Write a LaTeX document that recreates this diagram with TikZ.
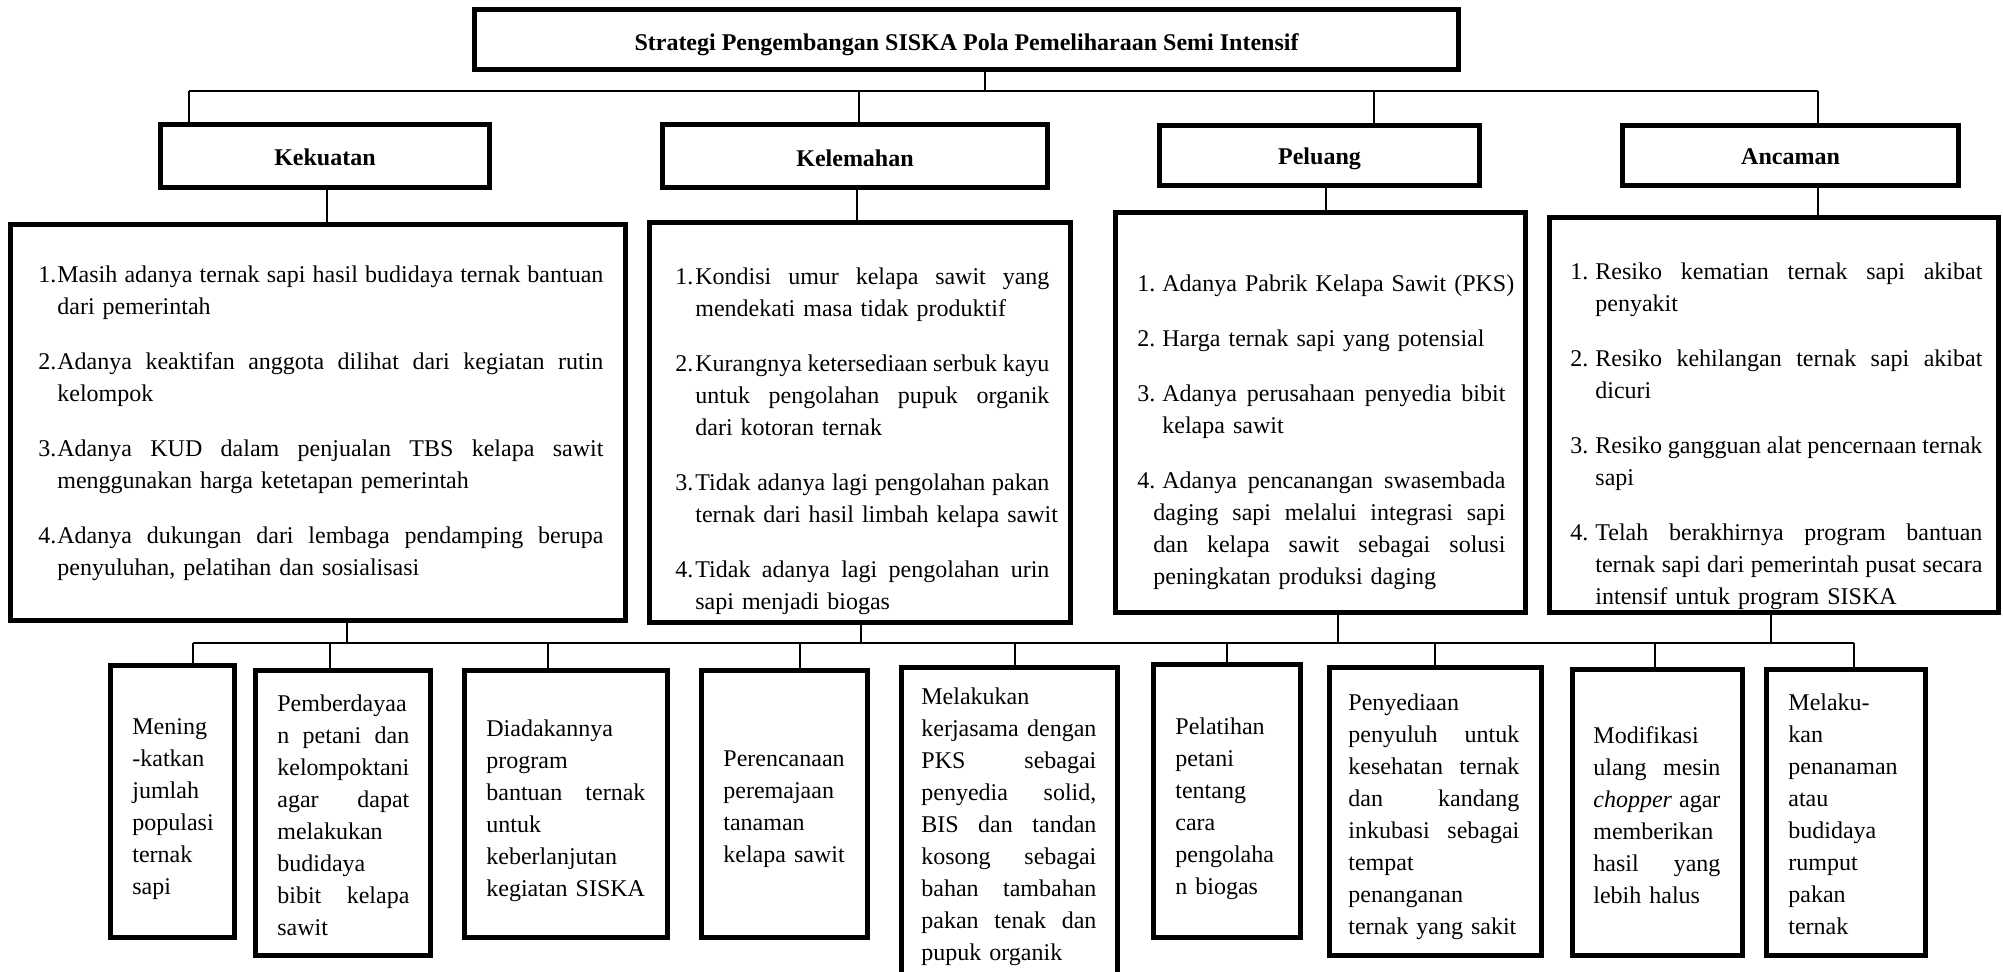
\documentclass[tikz,border=0pt]{standalone}
\usepackage{fontspec}
\setmainfont{Liberation Serif}
\usetikzlibrary{fit}
\setlength{\parindent}{0pt}
\newcommand{\JB}[2]{\hbox to #1{\spaceskip=0.25em plus 1fil minus 0.08em\relax #2}}
\newcommand{\NJ}[4]{\makebox[#1][l]{\strut#3}\JB{#2}{#4}}
\newcommand{\NL}[3]{\makebox[#1][l]{\strut#2}#3}
\newcommand{\J}[2]{\strut\JB{#1}{#2}}
\newcommand{\Lx}[1]{\strut#1}
\begin{document}
\begin{tikzpicture}[x=0.5pt,y=-0.5pt,
  box/.style={draw, line width=2.5pt, inner sep=0pt},
  conn/.style={line width=0.7pt},
  txt/.style={anchor=north west, inner sep=0pt, align=left, font=\fontsize{12}{16}\selectfont},
  hd/.style={inner sep=0pt, text height=8pt, text depth=2.6pt, font=\fontsize{12}{16}\selectfont\bfseries}]
\useasboundingbox (0,0) rectangle (2003,972);
\clip (0,0) rectangle (2003,972);

% ---------- title ----------
\node[box, fit={(474.5,9.5) (1458.5,69.5)}] (title) {};
\node[hd] (titletext) at (966.5,45) {Strategi Pengembangan SISKA Pola Pemeliharaan Semi Intensif};

% ---------- headers ----------
\node[box, fit={(160.5,124.5) (489.5,187.5)}] (hk) {};
\node[hd] (hkt) at ([yshift=-2pt]hk.center) {Kekuatan};
\node[box, fit={(662.5,124.5) (1047.5,187.5)}] (hw) {};
\node[hd] (hwt) at ([yshift=-2.5pt]hw.center) {Kelemahan};
\node[box, fit={(1159.5,125.5) (1479.5,185.5)}] (hp) {};
\node[hd] (hpt) at ([yshift=-2pt]hp.center) {Peluang};
\node[box, fit={(1622.5,125.5) (1958.5,185.5)}] (ha) {};
\node[hd] (hat) at ([yshift=-2pt]ha.center) {Ancaman};

% ---------- list boxes ----------
\node[box, fit={(10.5,224.5) (625.5,620.5)}] (lk) {};
\node[box, fit={(649.5,222.5) (1070.5,622.5)}] (lw) {};
\node[box, fit={(1115.5,212.5) (1525.5,612.5)}] (lp) {};
\node[box, fit={(1549.5,217.5) (1998,612.5)}] (la) {};

\node[txt, text width=300pt] (tk) at (38,260) {%
\NJ{9.5pt}{273pt}{1.}{Masih adanya ternak sapi hasil budidaya ternak bantuan}\\
\NL{9.5pt}{}{dari pemerintah}\\[11.5pt]
\NJ{9.5pt}{273pt}{2.}{Adanya keaktifan anggota dilihat dari kegiatan rutin}\\
\NL{9.5pt}{}{kelompok}\\[11.5pt]
\NJ{9.5pt}{273pt}{3.}{Adanya KUD dalam penjualan TBS kelapa sawit}\\
\NL{9.5pt}{}{menggunakan harga ketetapan pemerintah}\\[11.5pt]
\NJ{9.5pt}{273pt}{4.}{Adanya dukungan dari lembaga pendamping berupa}\\
\NL{9.5pt}{}{penyuluhan, pelatihan dan sosialisasi}};

\node[txt, text width=205pt] (tw) at (675,262) {%
\NJ{10pt}{177pt}{1.}{Kondisi umur kelapa sawit yang}\\
\NL{10pt}{}{mendekati masa tidak produktif}\\[11.5pt]
\NJ{10pt}{177pt}{2.}{Kurangnya ketersediaan serbuk kayu}\\
\NJ{10pt}{177pt}{}{untuk pengolahan pupuk organik}\\
\NL{10pt}{}{dari kotoran ternak}\\[11.5pt]
\NJ{10pt}{177pt}{3.}{Tidak adanya lagi pengolahan pakan}\\
\NL{10pt}{}{ternak dari hasil limbah kelapa sawit}\\[11.5pt]
\NJ{10pt}{177pt}{4.}{Tidak adanya lagi pengolahan urin}\\
\NL{10pt}{}{sapi menjadi biogas}};

\node[txt, text width=205pt] (tp) at (1137,269) {%
\NL{12.5pt}{1.}{Adanya Pabrik Kelapa Sawit (PKS)}\\[11.5pt]
\NL{12.5pt}{2.}{Harga ternak sapi yang potensial}\\[11.5pt]
\NJ{12.5pt}{171.5pt}{3.}{Adanya perusahaan penyedia bibit}\\
\NL{12.5pt}{}{kelapa sawit}\\[11.5pt]
\NJ{12.5pt}{171.5pt}{4.}{Adanya pencanangan swasembada}\\
\NJ{8pt}{176pt}{}{daging sapi melalui integrasi sapi}\\
\NJ{8pt}{176pt}{}{dan kelapa sawit sebagai solusi}\\
\NL{8pt}{}{peningkatan produksi daging}};

\node[txt, text width=225pt] (ta) at (1570,257) {%
\NJ{12.5pt}{193.5pt}{1.}{Resiko kematian ternak sapi akibat}\\
\NL{12.5pt}{}{penyakit}\\[11.5pt]
\NJ{12.5pt}{193.5pt}{2.}{Resiko kehilangan ternak sapi akibat}\\
\NL{12.5pt}{}{dicuri}\\[11.5pt]
\NJ{12.5pt}{193.5pt}{3.}{Resiko gangguan alat pencernaan ternak}\\
\NL{12.5pt}{}{sapi}\\[11.5pt]
\NJ{12.5pt}{193.5pt}{4.}{Telah berakhirnya program bantuan}\\
\NJ{12.5pt}{193.5pt}{}{ternak sapi dari pemerintah pusat secara}\\
\NL{12.5pt}{}{intensif untuk program SISKA}};

% ---------- bottom boxes ----------
\node[box, fit={(110.5,665.5) (234.5,937.5)}] (b1) {};
\node[box, fit={(255.5,670.5) (430.5,955.5)}] (b2) {};
\node[box, fit={(464.5,670.5) (667.5,937.5)}] (b3) {};
\node[box, fit={(701.5,670.5) (867.5,937.5)}] (b4) {};
\node[box, fit={(901.5,667.5) (1117.5,1010)}] (b5) {};
\node[box, fit={(1153.5,664.5) (1300.5,937.5)}] (b6) {};
\node[box, fit={(1329.5,667.5) (1541.5,955.5)}] (b7) {};
\node[box, fit={(1572.5,669.5) (1742.5,955.5)}] (b8) {};
\node[box, fit={(1766.5,669.5) (1925.5,955.5)}] (b9) {};

\node[txt, text width=70pt] (t1) at (132,712) {%
\Lx{Mening}\\ \Lx{-katkan}\\ \Lx{jumlah}\\ \Lx{populasi}\\ \Lx{ternak}\\ \Lx{sapi}};
\node[txt, text width=90pt] (t2) at (277,689) {%
\Lx{Pemberdayaa}\\ \J{66pt}{n petani dan}\\ \Lx{kelompoktani}\\ \J{66pt}{agar dapat}\\ \Lx{melakukan}\\ \Lx{budidaya}\\ \J{66pt}{bibit kelapa}\\ \Lx{sawit}};
\node[txt, text width=100pt] (t3) at (486,714) {%
\Lx{Diadakannya}\\ \Lx{program}\\ \J{79.5pt}{bantuan ternak}\\ \Lx{untuk}\\ \Lx{keberlanjutan}\\ \Lx{kegiatan SISKA}};
\node[txt, text width=90pt] (t4) at (723,744) {%
\Lx{Perencanaan}\\ \Lx{peremajaan}\\ \Lx{tanaman}\\ \Lx{kelapa sawit}};
\node[txt, text width=110pt] (t5) at (921,682) {%
\Lx{Melakukan}\\ \J{87.5pt}{kerjasama dengan}\\ \J{87.5pt}{PKS sebagai}\\ \J{87.5pt}{penyedia solid,}\\ \J{87.5pt}{BIS dan tandan}\\ \J{87.5pt}{kosong sebagai}\\ \J{87.5pt}{bahan tambahan}\\ \J{87.5pt}{pakan tenak dan}\\ \Lx{pupuk organik}};
\node[txt, text width=80pt] (t6) at (1175,712) {%
\Lx{Pelatihan}\\ \Lx{petani}\\ \Lx{tentang}\\ \Lx{cara}\\ \Lx{pengolaha}\\ \Lx{n biogas}};
\node[txt, text width=110pt] (t7) at (1348,688) {%
\Lx{Penyediaan}\\ \J{85.5pt}{penyuluh untuk}\\ \J{85.5pt}{kesehatan ternak}\\ \J{85.5pt}{dan kandang}\\ \J{85.5pt}{inkubasi sebagai}\\ \Lx{tempat}\\ \Lx{penanganan}\\ \Lx{ternak yang sakit}};
\node[txt, text width=85pt] (t8) at (1593,721) {%
\Lx{Modifikasi}\\ \J{63.5pt}{ulang mesin}\\ \J{63.5pt}{\textit{chopper} agar}\\ \Lx{memberikan}\\ \J{63.5pt}{hasil yang}\\ \Lx{lebih halus}};
\node[txt, text width=80pt] (t9) at (1788,688) {%
\Lx{Melaku-}\\ \Lx{kan}\\ \Lx{penanaman}\\ \Lx{atau}\\ \Lx{budidaya}\\ \Lx{rumput}\\ \Lx{pakan}\\ \Lx{ternak}};

% ---------- top connectors ----------
\coordinate (tbL) at (189,91);
\coordinate (tbR) at (1818,91);
\coordinate (tbT) at (985,91);
\coordinate (tb2) at (859,91);
\coordinate (tb3) at (1374,91);
\draw[conn] (title.south -| tbT) -- (tbT);
\draw[conn] (tbL) -- (tbR);
\draw[conn] (tbL) -- (tbL |- hk.north);
\draw[conn] (tb2) -- (tb2 |- hw.north);
\draw[conn] (tb3) -- (tb3 |- hp.north);
\draw[conn] (tbR) -- (tbR |- ha.north);

\coordinate (k1) at (327,0);
\coordinate (k2) at (857,0);
\coordinate (k3) at (1326,0);
\coordinate (k4) at (1818,0);
\draw[conn] (hk.south -| k1) -- (lk.north -| k1);
\draw[conn] (hw.south -| k2) -- (lw.north -| k2);
\draw[conn] (hp.south -| k3) -- (lp.north -| k3);
\draw[conn] (ha.south -| k4) -- (la.north -| k4);

% ---------- bottom connectors ----------
\coordinate (bbL) at (193,643);
\coordinate (bbR) at (1854,643);
\draw[conn] (bbL) -- (bbR);
\coordinate (u1) at (347,643);
\coordinate (u2) at (861,643);
\coordinate (u3) at (1338,643);
\coordinate (u4) at (1771,643);
\draw[conn] (lk.south -| u1) -- (u1);
\draw[conn] (lw.south -| u2) -- (u2);
\draw[conn] (lp.south -| u3) -- (u3);
\draw[conn] (la.south -| u4) -- (u4);

\coordinate (s1) at (193,643);
\coordinate (s2) at (330,643);
\coordinate (s3) at (548,643);
\coordinate (s4) at (800,643);
\coordinate (s5) at (1015,643);
\coordinate (s6) at (1227,643);
\coordinate (s7) at (1435,643);
\coordinate (s8) at (1655,643);
\coordinate (s9) at (1854,643);
\draw[conn] (s1) -- (s1 |- b1.north);
\draw[conn] (s2) -- (s2 |- b2.north);
\draw[conn] (s3) -- (s3 |- b3.north);
\draw[conn] (s4) -- (s4 |- b4.north);
\draw[conn] (s5) -- (s5 |- b5.north);
\draw[conn] (s6) -- (s6 |- b6.north);
\draw[conn] (s7) -- (s7 |- b7.north);
\draw[conn] (s8) -- (s8 |- b8.north);
\draw[conn] (s9) -- (s9 |- b9.north);
\end{tikzpicture}
\end{document}
